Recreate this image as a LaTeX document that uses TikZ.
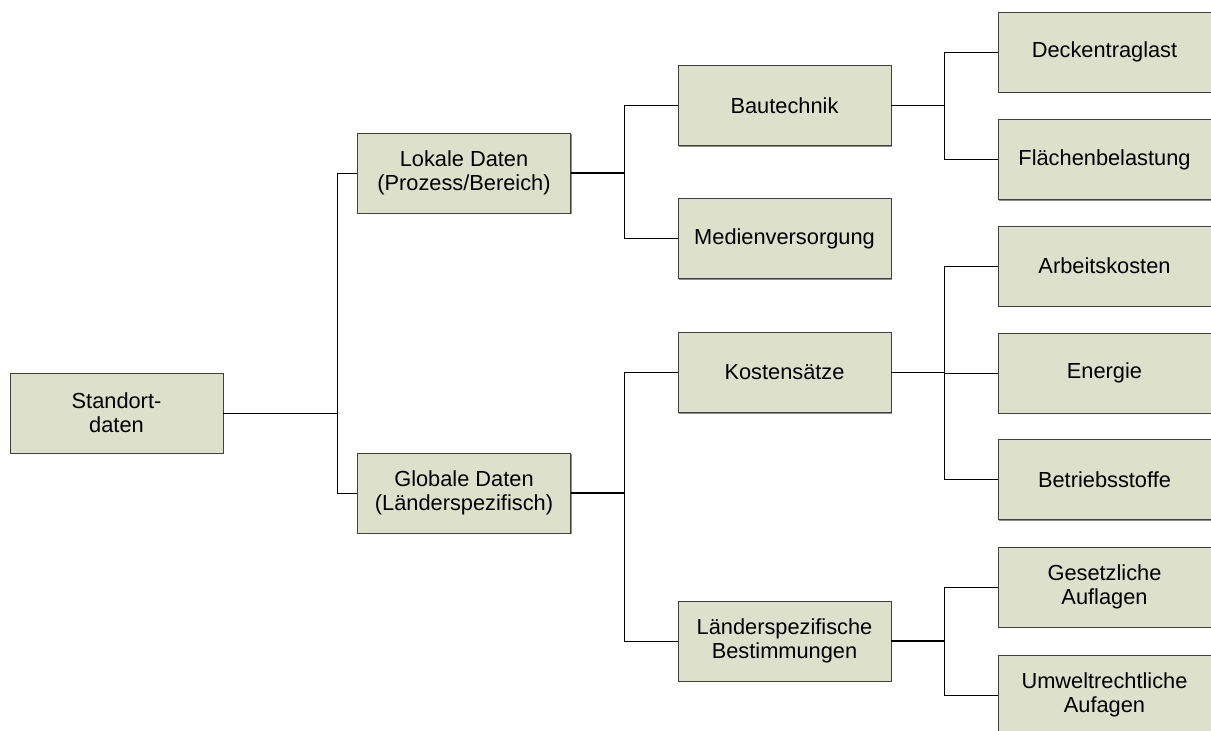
\documentclass[tikz,border=0pt]{standalone}
\usepackage{fontspec}
\setmainfont{Liberation Sans}
\usetikzlibrary{shadows}
\definecolor{boxfill}{HTML}{DDE0CB}
\definecolor{boxline}{HTML}{404040}
\begin{document}
\begin{tikzpicture}[x=1pt,y=-1pt,
  box/.style={draw=boxline, line width=0.9pt, fill=boxfill,
    minimum width=213pt, minimum height=80pt, inner sep=0pt,
    align=center, font=\fontsize{21.8}{24}\selectfont,
    drop shadow={shadow xshift=1.2pt, shadow yshift=-1.2pt, fill=black!45, opacity=1}},
  link/.style={line width=0.9pt, black},
  stub/.style={line width=1.3pt, black}]
\useasboundingbox (0,0) rectangle (1211,731);

% level 0
\node[box] (std) at (116.5,413) {Standort-\\daten};
% level 1
\node[box] (lok) at (464,173) {Lokale Daten\\(Prozess/Bereich)};
\node[box] (glo) at (464,493) {Globale Daten\\(Länderspezifisch)};
% level 2
\node[box] (bau) at (784.5,105.5) {Bautechnik};
\node[box] (med) at (784.5,238.5) {Medienversorgung};
\node[box] (kos) at (784.5,372.5) {Kostensätze};
\node[box] (lsb) at (784.5,641) {Länderspezifische\\Bestimmungen};
% level 3
\node[box] (dec) at (1104.5,52) {Deckentraglast};
\node[box] (fla) at (1104.5,159.5) {Flächenbelastung};
\node[box] (arb) at (1104.5,266) {Arbeitskosten};
\node[box] (ene) at (1104.5,373) {Energie};
\node[box] (bet) at (1104.5,479.5) {Betriebsstoffe};
\node[box] (ges) at (1104.5,587) {Gesetzliche\\Auflagen};
\node[box] (umw) at (1104.5,695) {Umweltrechtliche\\Aufagen};

% bus lines
\coordinate (busA) at (337,0);
\coordinate (busB) at (624,0);
\coordinate (busC) at (944,0);

% Standortdaten -> Lokale / Globale
\draw[link] (std.east) -- (busA |- std.east);
\draw[link] (lok.west) -| (busA |- std.east);
\draw[link] (glo.west) -| (busA |- std.east);

% Lokale Daten -> Bautechnik / Medienversorgung
\draw[stub] (lok.east) -- (busB |- lok.east);
\draw[link] (bau.west) -| (busB |- lok.east);
\draw[link] (med.west) -| (busB |- lok.east);

% Globale Daten -> Kostensätze / Länderspezifische Bestimmungen
\draw[stub] (glo.east) -- (busB |- glo.east);
\draw[link] (kos.west) -| (busB |- glo.east);
\draw[link] (lsb.west) -| (busB |- glo.east);

% Bautechnik -> Deckentraglast / Flächenbelastung
\draw[stub] (bau.east) -- (busC |- bau.east);
\draw[link] (dec.west) -| (busC |- bau.east);
\draw[link] (fla.west) -| (busC |- bau.east);

% Kostensätze -> Arbeitskosten / Energie / Betriebsstoffe
\draw[link] (kos.east) -- (busC |- kos.east);
\draw[link] (arb.west) -| (busC |- kos.east);
\draw[link] (ene.west) -- (busC |- ene.west);
\draw[link] (bet.west) -| (busC |- kos.east);

% Länderspezifische Bestimmungen -> Gesetzliche / Umweltrechtliche
\draw[stub] (lsb.east) -- (busC |- lsb.east);
\draw[link] (ges.west) -| (busC |- lsb.east);
\draw[link] (umw.west) -| (busC |- lsb.east);
\end{tikzpicture}
\end{document}
